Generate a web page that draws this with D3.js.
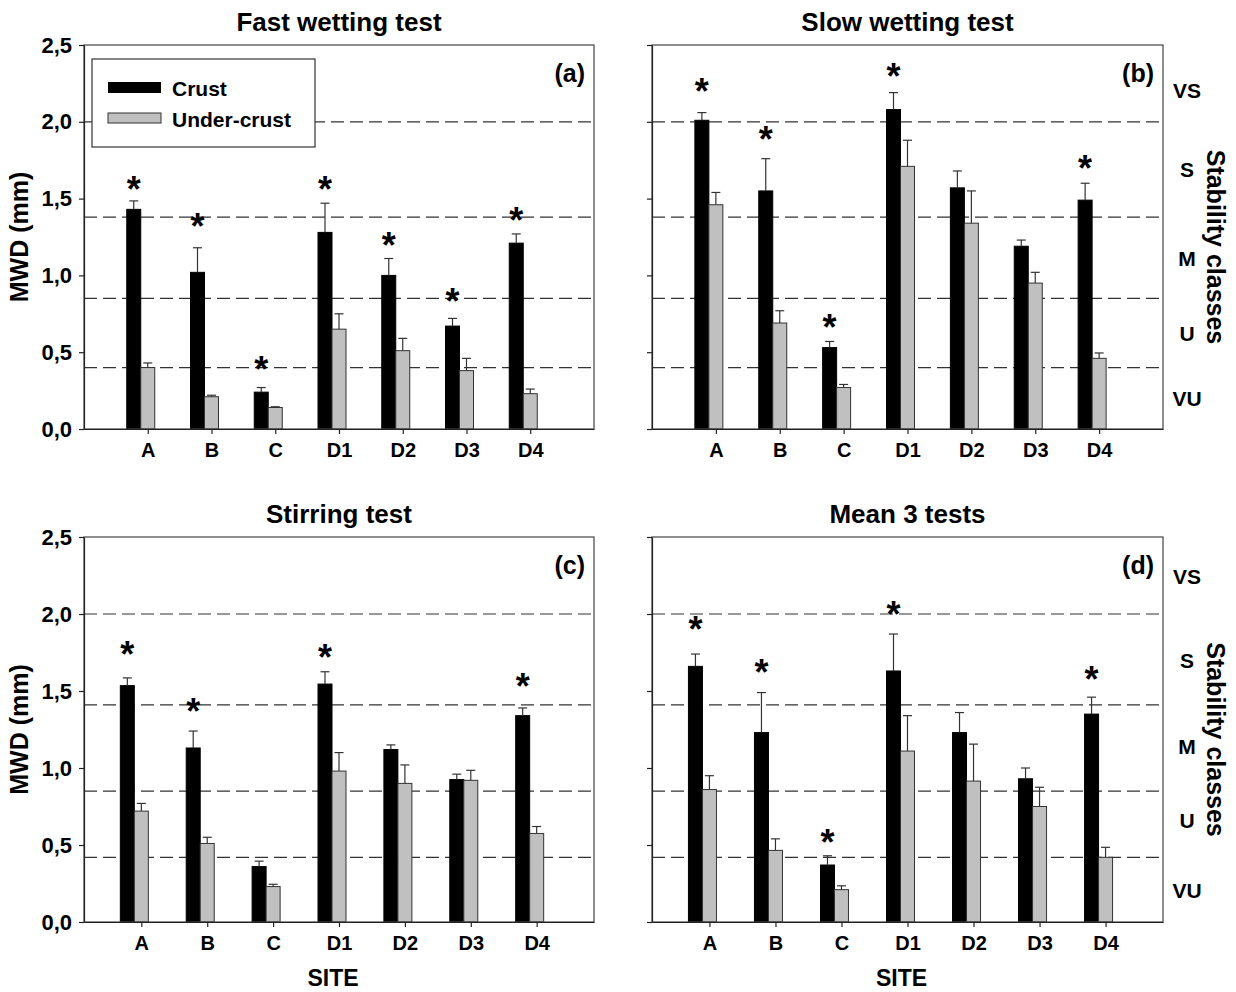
<!DOCTYPE html>
<html><head><meta charset="utf-8">
<script src="https://cdn.jsdelivr.net/npm/d3@7/dist/d3.min.js"></script>
<style>
body{margin:0;background:#fff}
text{font-family:"Liberation Sans",Arial,sans-serif;font-weight:bold;fill:#000}
</style>
</head><body>
<svg id="chart" width="1236" height="992"></svg>
<script>
// ---------- data ----------
const sites = ["A","B","C","D1","D2","D3","D4"];
const seriesNames = ["Crust","Under-crust"];
const yTickValues = [0,0.5,1.0,1.5,2.0,2.5];
const yTickLabels = ["0,0","0,5","1,0","1,5","2,0","2,5"];
const classNames = ["VU","U","M","S","VS"];
const classLabelTop = [0.20,0.625,1.115,1.69,2.21];
const classLabelBottom = [0.21,0.66,1.14,1.70,2.25];
const thresholdsTop = [0.40,0.85,1.38,2.0];
const thresholdsBottom = [0.42,0.85,1.41,2.0];

// (a) Fast wetting test
const crustFast    = [1.43,1.02,0.24,1.28,1.00,0.67,1.21];
const crustErrFast = [0.055,0.16,0.03,0.19,0.11,0.05,0.06];
const underFast    = [0.40,0.21,0.14,0.65,0.51,0.38,0.23];
const underErrFast = [0.03,0.01,0.005,0.10,0.08,0.08,0.03];
const starFast     = [1.60,1.36,0.43,1.60,1.24,0.87,1.40];
// (b) Slow wetting test
const crustSlow    = [2.01,1.55,0.53,2.08,1.57,1.19,1.49];
const crustErrSlow = [0.05,0.21,0.04,0.11,0.11,0.04,0.11];
const underSlow    = [1.46,0.69,0.27,1.71,1.34,0.95,0.46];
const underErrSlow = [0.08,0.08,0.02,0.17,0.21,0.07,0.035];
const starSlow     = [2.24,1.93,0.70,2.34,null,null,1.74];
// (c) Stirring test
const crustStir    = [1.535,1.13,0.36,1.545,1.12,0.925,1.34];
const crustErrStir = [0.05,0.11,0.035,0.08,0.03,0.035,0.05];
const underStir    = [0.72,0.51,0.23,0.98,0.90,0.92,0.575];
const underErrStir = [0.05,0.04,0.015,0.12,0.12,0.065,0.045];
const starStir     = [1.78,1.41,null,1.76,null,null,1.57];
// (d) Mean 3 tests
const crustMean    = [1.66,1.23,0.37,1.63,1.23,0.93,1.35];
const crustErrMean = [0.08,0.26,0.06,0.24,0.13,0.07,0.11];
const underMean    = [0.86,0.465,0.21,1.11,0.915,0.75,0.42];
const underErrMean = [0.09,0.075,0.025,0.23,0.24,0.125,0.065];
const starMean     = [1.94,1.66,0.56,2.04,null,null,1.62];

// ---------- layout ----------
const panels = [
  {tag:"(a)", title:"Fast wetting test", crust:crustFast, crustErr:crustErrFast, under:underFast, underErr:underErrFast, star:starFast, thr:thresholdsTop, cls:classLabelTop,
   l:84, r:594, t:45, b:429, pad:1, yLabels:true, legend:true, classes:false, site:false},
  {tag:"(b)", title:"Slow wetting test", crust:crustSlow, crustErr:crustErrSlow, under:underSlow, underErr:underErrSlow, star:starSlow, thr:thresholdsTop, cls:classLabelTop,
   l:652, r:1163, t:45, b:429, pad:1, yLabels:false, legend:false, classes:true, site:false},
  {tag:"(c)", title:"Stirring test", crust:crustStir, crustErr:crustErrStir, under:underStir, underErr:underErrStir, star:starStir, thr:thresholdsBottom, cls:classLabelBottom,
   l:84, r:594, t:537, b:922, pad:0.87, yLabels:true, legend:false, classes:false, site:true},
  {tag:"(d)", title:"Mean 3 tests", crust:crustMean, crustErr:crustErrMean, under:underMean, underErr:underErrMean, star:starMean, thr:thresholdsBottom, cls:classLabelBottom,
   l:652, r:1163, t:537, b:922, pad:0.87, yLabels:false, legend:false, classes:true, site:true}
];

const svg = d3.select("#chart");
const FRAME = "#444";
const GRAY = "#c0c0c0";
const BAR_W = 14;
const FONT = "'Liberation Sans',Arial,sans-serif";

panels.forEach(p => {
  const g = svg.append("g");
  const x = d3.scalePoint().domain(sites).range([p.l, p.r]).padding(p.pad);
  const y = d3.scaleLinear().domain([0, 2.5]).range([p.b, p.t]);

  // dashed class thresholds
  g.selectAll("line.thr").data(p.thr).join("line")
    .attr("x1", p.l).attr("x2", p.r)
    .attr("y1", d => y(d)).attr("y2", d => y(d))
    .attr("stroke", "#333").attr("stroke-width", 1.2)
    .attr("stroke-dasharray", "13,6");

  // bars
  const rows = sites.map((s, i) => ({s, c:p.crust[i], ce:p.crustErr[i], u:p.under[i], ue:p.underErr[i], st:p.star[i]}));
  g.selectAll("rect.crust").data(rows).join("rect")
    .attr("x", d => x(d.s) - 21).attr("width", BAR_W)
    .attr("y", d => y(d.c)).attr("height", d => y(0) - y(d.c))
    .attr("fill", "#000").attr("stroke", "#000");
  g.selectAll("rect.under").data(rows).join("rect")
    .attr("x", d => x(d.s) - 7).attr("width", BAR_W)
    .attr("y", d => y(d.u)).attr("height", d => y(0) - y(d.u))
    .attr("fill", GRAY).attr("stroke", "#333").attr("stroke-width", 1);

  // error bars (upper)
  const errs = [];
  rows.forEach(d => {
    errs.push({cx: x(d.s) - 14, v: d.c, e: d.ce});
    errs.push({cx: x(d.s), v: d.u, e: d.ue});
  });
  const eg = g.append("g").attr("stroke", "#333").attr("stroke-width", 1.2);
  eg.selectAll("line.v").data(errs).join("line")
    .attr("x1", d => d.cx).attr("x2", d => d.cx)
    .attr("y1", d => y(d.v)).attr("y2", d => y(d.v + d.e));
  eg.selectAll("line.cap").data(errs).join("line")
    .attr("x1", d => d.cx - 4.5).attr("x2", d => d.cx + 4.5)
    .attr("y1", d => y(d.v + d.e)).attr("y2", d => y(d.v + d.e));

  // asterisks
  g.selectAll("text.star").data(rows.filter(d => d.st != null)).join("text")
    .attr("x", d => x(d.s) - 14).attr("y", d => y(d.st) + 19)
    .attr("text-anchor", "middle").style("font-size", "36px").text("*");

  // frame
  g.append("rect").attr("x", p.l).attr("y", p.t).attr("width", p.r - p.l).attr("height", p.b - p.t)
    .attr("fill", "none").attr("stroke", FRAME).attr("stroke-width", 1.2);

  // y axis
  const ya = d3.axisLeft(y).tickValues(yTickValues).tickSizeOuter(0).tickSizeInner(5).tickPadding(7)
    .tickFormat((d, i) => p.yLabels ? yTickLabels[i] : "");
  const yg = g.append("g").attr("transform", `translate(${p.l},0)`).call(ya);
  yg.select(".domain").attr("stroke", "#222").attr("stroke-width", 1.2);
  yg.selectAll(".tick line").attr("stroke", "#222").attr("stroke-width", 1.2);
  yg.selectAll(".tick text").style("font-size", "22px").style("font-family", FONT).style("font-weight", "bold").attr("fill", "#000");

  // x axis
  const xa = d3.axisBottom(x).tickSizeOuter(0).tickSizeInner(5).tickPadding(9);
  const xg = g.append("g").attr("transform", `translate(0,${p.b})`).call(xa);
  xg.select(".domain").attr("stroke", "#222").attr("stroke-width", 1.2);
  xg.selectAll(".tick line").attr("stroke", "#222").attr("stroke-width", 1.2);
  xg.selectAll(".tick text").style("font-size", "20px").style("font-family", FONT).style("font-weight", "bold").attr("fill", "#000");

  // title
  g.append("text").attr("x", (p.l + p.r) / 2).attr("y", p.t - 14)
    .attr("text-anchor", "middle").style("font-size", "26px").text(p.title);
  // panel tag
  g.append("text").attr("x", p.r - 9).attr("y", p.t + 37)
    .attr("text-anchor", "end").style("font-size", "25px").text(p.tag);

  if (p.yLabels) {
    g.append("text").attr("transform", `translate(${p.l - 56},${(p.t + p.b) / 2}) rotate(-90)`)
      .attr("text-anchor", "middle").style("font-size", "25px").text("MWD (mm)");
  }
  if (p.site) {
    g.append("text").attr("x", (p.l + p.r) / 2 - 6).attr("y", p.b + 64)
      .attr("text-anchor", "middle").style("font-size", "23px").text("SITE");
  }
  if (p.classes) {
    const mids = classNames.map((c, i) => ({c, v: p.cls[i]}));
    g.selectAll("text.cls").data(mids).join("text")
      .attr("x", p.r + 24).attr("y", d => y(d.v) + 8)
      .attr("text-anchor", "middle").style("font-size", "21px").text(d => d.c);
    g.append("text").attr("transform", `translate(${p.r + 44},${(p.t + p.b) / 2 + 10}) rotate(90)`)
      .attr("text-anchor", "middle").style("font-size", "25px").text("Stability classes");
  }
  if (p.legend) {
    const lg = g.append("g");
    lg.append("rect").attr("x", 92).attr("y", 59).attr("width", 223).attr("height", 88)
      .attr("fill", "#fff").attr("stroke", "#333").attr("stroke-width", 1.2);
    lg.append("rect").attr("x", 108).attr("y", 82).attr("width", 53).attr("height", 11).attr("fill", "#000");
    lg.append("rect").attr("x", 108).attr("y", 113).attr("width", 53).attr("height", 10).attr("fill", GRAY).attr("stroke", "#333");
    lg.append("text").attr("x", 172).attr("y", 96).style("font-size", "21px").text(seriesNames[0]);
    lg.append("text").attr("x", 172).attr("y", 127).style("font-size", "21px").text(seriesNames[1]);
  }
});
</script>
</body></html>
